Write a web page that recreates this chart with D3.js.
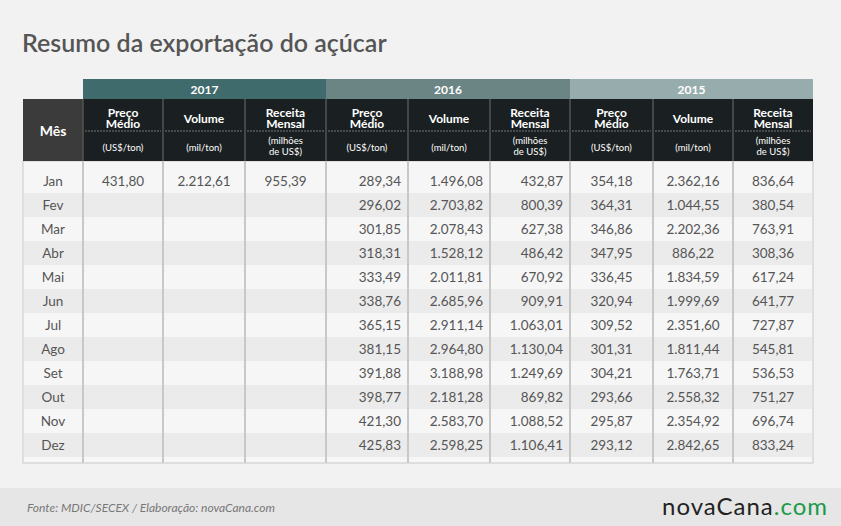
<!DOCTYPE html>
<html><head><meta charset="utf-8">
<script src="https://cdn.jsdelivr.net/npm/d3@7"></script>
<style>body{margin:0;background:#f2f2f2}</style></head>
<body><svg id="c" width="841" height="526"></svg>
<script>
const months=["Jan","Fev","Mar","Abr","Mai","Jun","Jul","Ago","Set","Out","Nov","Dez"];
const years=["2017","2016","2015"];
const preco2017=["431,80"];
const volume2017=["2.212,61"];
const receita2017=["955,39"];
const preco2016=["289,34","296,02","301,85","318,31","333,49","338,76","365,15","381,15","391,88","398,77","421,30","425,83"];
const volume2016=["1.496,08","2.703,82","2.078,43","1.528,12","2.011,81","2.685,96","2.911,14","2.964,80","3.188,98","2.181,28","2.583,70","2.598,25"];
const receita2016=["432,87","800,39","627,38","486,42","670,92","909,91","1.063,01","1.130,04","1.249,69","869,82","1.088,52","1.106,41"];
const preco2015=["354,18","364,31","346,86","347,95","336,45","320,94","309,52","301,31","304,21","293,66","295,87","293,12"];
const volume2015=["2.362,16","1.044,55","2.202,36","886,22","1.834,59","1.999,69","2.351,60","1.811,44","1.763,71","2.558,32","2.354,92","2.842,65"];
const receita2015=["836,64","380,54","763,91","308,36","617,24","641,77","727,87","545,81","536,53","751,27","696,74","833,24"];

const svg=d3.select("#c"),F="Lato, sans-serif";
const colEdges=[23,83,163,245,326,408,490,570,653,733,813];
const yearColors=["#406b6c","#6b8584","#97adad"];
const series=[[preco2017,volume2017,receita2017],[preco2016,volume2016,receita2016],[preco2015,volume2015,receita2015]];
const align=["middle","end","middle"];
svg.append("text").attr("x",22).attr("y",52).attr("font-family",F).attr("font-weight",600).attr("font-size",25).attr("fill","#555").text("Resumo da exportação do açúcar");
svg.append("rect").attr("x",23).attr("y",161).attr("width",790).attr("height",302).attr("fill","#f6f6f6").attr("stroke","#c8c8c8");
const y=d3.scaleBand().domain(months).range([169,457]);
months.forEach((m,i)=>{ if(i%2==1) svg.append("rect").attr("x",24).attr("y",y(m)).attr("width",788).attr("height",y.bandwidth()).attr("fill","#ebebeb");});
colEdges.slice(1,-1).forEach(x=>svg.append("line").attr("x1",x).attr("x2",x).attr("y1",161).attr("y2",463).attr("stroke","#c8c8c8").attr("stroke-width",2));
years.forEach((yr,k)=>{const x0=colEdges[1+3*k],x1=colEdges[4+3*k];
 svg.append("rect").attr("x",x0).attr("y",79).attr("width",x1-x0).attr("height",20).attr("fill",yearColors[k]);
 svg.append("text").attr("x",(x0+x1)/2).attr("y",94).attr("text-anchor","middle").attr("font-family",F).attr("font-weight","bold").attr("font-size",12).attr("fill","#fff").text(yr);});
svg.append("rect").attr("x",23).attr("y",99).attr("width",60).attr("height",62).attr("fill","#3b3b3b");
svg.append("text").attr("x",53).attr("y",136).attr("text-anchor","middle").attr("font-family",F).attr("font-weight","bold").attr("font-size",14).attr("fill","#fff").text("Mês");
const heads=[["Preço","Médio"],["Volume"],["Receita","Mensal"]];
const units=[["(US$/ton)"],["(mil/ton)"],["(milhões","de US$)"]];
for(let c=0;c<9;c++){const x0=colEdges[c+1],x1=colEdges[c+2],cx=(x0+x1)/2;
 svg.append("rect").attr("x",x0).attr("y",99).attr("width",x1-x0).attr("height",62).attr("fill","#1a2021");
 svg.append("line").attr("x1",x0+2).attr("x2",x1-2).attr("y1",131).attr("y2",131).attr("stroke","#777").attr("stroke-dasharray","2,1");
 const h=heads[c%3],u=units[c%3];
 h.forEach((t,j)=>svg.append("text").attr("x",cx).attr("y",(h.length==1?123:117)+j*11).attr("text-anchor","middle").attr("font-family",F).attr("font-weight","bold").attr("font-size",12).attr("fill","#fff").text(t));
 u.forEach((t,j)=>svg.append("text").attr("x",cx).attr("y",(u.length==1?151:144)+j*10.5).attr("text-anchor","middle").attr("font-family",F).attr("font-size",9.5).attr("fill","#fff").text(t));
}
for(let c=1;c<10;c++) svg.append("line").attr("x1",colEdges[c]).attr("x2",colEdges[c]).attr("y1",99).attr("y2",161).attr("stroke","#555").attr("stroke-width",1.5);
months.forEach(m=>svg.append("text").attr("x",53).attr("y",y(m)+y.bandwidth()/2+5).attr("text-anchor","middle").attr("font-family",F).attr("font-size",13.5).attr("fill","#555").text(m));
series.forEach((grp,k)=>grp.forEach((arr,j)=>{const x0=colEdges[1+3*k+j],x1=colEdges[2+3*k+j];
 const x=align[k]=="end"?x1-7:(x0+x1)/2;
 arr.forEach((v,i)=>svg.append("text").attr("x",x).attr("y",y(months[i])+y.bandwidth()/2+5).attr("text-anchor",align[k]).attr("font-family",F).attr("font-size",13.5).attr("fill","#555").text(v));}));
svg.append("rect").attr("x",0).attr("y",488).attr("width",841).attr("height",38).attr("fill","#e6e6e6");
svg.append("text").attr("x",27).attr("y",512).attr("font-family",F).attr("font-style","italic").attr("font-size",12).attr("fill","#777").text("Fonte: MDIC/SECEX / Elaboração: novaCana.com");
const lg=svg.append("text").attr("x",828).attr("y",515).attr("text-anchor","end").attr("font-family",F).attr("font-size",24).attr("letter-spacing",1);
lg.append("tspan").attr("fill","#222").text("novaCana");lg.append("tspan").attr("fill","#1a9a4a").text(".com");
</script></body></html>
